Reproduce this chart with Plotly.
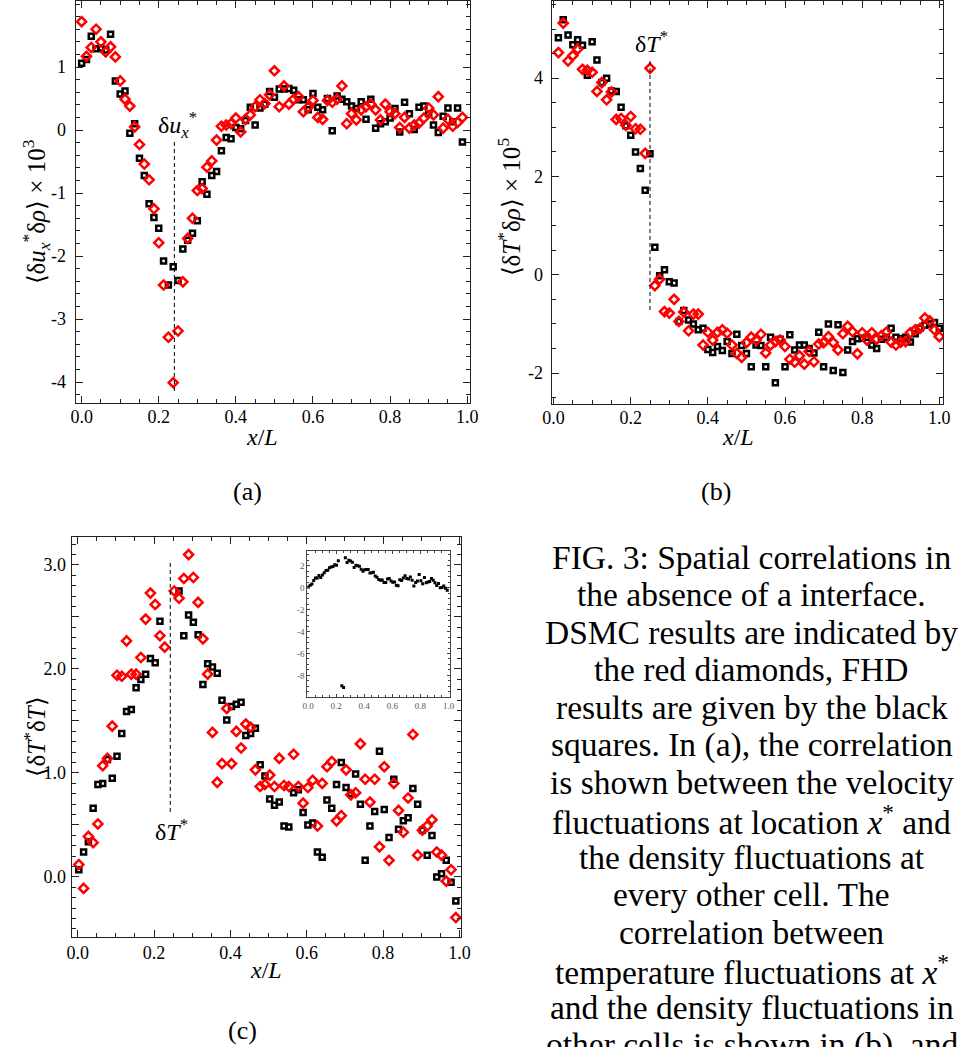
import plotly.graph_objects as go

W, H = 961, 1047
N_CELLS = 80
STAR = 19

# cell positions (x/L) for each panel
xa = [i / N_CELLS for i in range(N_CELLS)]
xb = [(i + 1) / N_CELLS for i in range(N_CELLS)]
xc = [i / N_CELLS + 0.003 for i in range(N_CELLS)]

# (a) <du_x* drho> x 1e3
a_fhd = [1.06, 1.12, 1.49, 1.29, 1.30, 1.27, 1.52, 0.78, 0.57, 0.62,
         -0.05, 0.10, -0.45, -0.72, -1.17, -1.39, -1.56, -2.08, -2.46, -2.17,
         -2.39, -1.89, -1.75, -1.64, -1.44, -0.82, -1.02, -0.72, -0.66, -0.33,
         -0.12, -0.14, 0.04, 0.02, 0.15, 0.36, 0.08, 0.35, 0.41, 0.61,
         0.52, 0.65, 0.65, 0.66, 0.63, 0.48, 0.48, 0.32, 0.58, 0.36,
         0.32, 0.50, -0.01, 0.54, 0.49, 0.45, 0.38, 0.34, 0.45, 0.17,
         0.49, 0.03, 0.10, 0.13, 0.19, 0.34, -0.03, 0.44, 0.26, 0.01,
         0.36, 0.38, 0.26, 0.08, -0.04, 0.22, 0.35, 0.13, 0.35, -0.19]
a_dsmc = [1.72, 1.17, 1.31, 1.60, 1.40, 1.24, 1.32, 1.16, 0.78, 0.49,
          0.38, 0.05, -0.23, -0.54, -0.79, -1.25, -1.79, -2.46, -3.29, -4.01,
          -3.19, -2.41, -1.72, -1.40, -0.96, -0.93, -0.59, -0.49, -0.16, 0.06,
          0.08, 0.10, 0.19, -0.03, 0.17, 0.24, 0.37, 0.48, 0.42, 0.56,
          0.94, 0.37, 0.70, 0.41, 0.49, 0.53, 0.29, 0.36, 0.47, 0.20,
          0.17, 0.47, 0.44, 0.49, 0.70, 0.10, 0.26, 0.16, 0.32, 0.37,
          0.41, 0.32, 0.16, 0.41, 0.29, 0.26, 0.04, 0.20, 0.03, 0.08,
          0.11, 0.19, 0.35, 0.24, 0.53, 0.03, 0.17, 0.06, 0.12, 0.20]

# (b) <dT* drho> x 1e5
b_fhd = [4.82, 5.19, 4.88, 4.68, 4.78, 4.67, 4.06, 4.74, 4.37, 3.91,
         4.00, 3.74, 3.73, 3.41, 3.03, 2.84, 2.50, 2.16, 1.72, 2.46,
         0.56, -0.02, 0.10, -0.14, -0.17, -0.95, -0.73, -0.92, -1.00, -1.12,
         -1.09, -1.52, -1.58, -1.46, -1.54, -1.36, -1.60, -1.21, -1.44, -1.60,
         -1.87, -1.43, -1.44, -1.87, -1.27, -2.20, -1.31, -1.87, -1.22, -1.53,
         -1.43, -1.43, -1.50, -1.59, -1.17, -1.87, -1.00, -1.95, -1.02, -1.99,
         -1.53, -1.36, -1.30, -1.29, -1.27, -1.43, -1.50, -1.31, -1.27, -1.09,
         -1.27, -1.30, -1.27, -1.37, -1.20, -1.09, -1.03, -1.00, -0.97, -1.09]
b_dsmc = [4.52, 5.12, 4.35, 4.46, 4.59, 4.18, 4.16, 4.12, 3.73, 3.91,
          3.56, 3.72, 3.16, 3.18, 3.04, 3.22, 2.97, 2.96, 2.47, 4.20,
          -0.22, -0.09, -0.75, -0.78, -0.50, -0.95, -0.76, -1.14, -0.80, -0.80,
          -1.43, -1.17, -1.33, -1.17, -1.12, -1.19, -1.43, -1.60, -1.68, -1.38,
          -1.27, -1.33, -1.21, -1.59, -1.43, -1.36, -1.33, -1.46, -1.72, -1.78,
          -1.65, -1.82, -1.56, -1.77, -1.41, -1.38, -1.26, -1.38, -1.53, -1.20,
          -1.05, -1.16, -1.61, -1.18, -1.33, -1.18, -1.31, -1.24, -1.17, -1.37,
          -1.43, -1.37, -1.36, -1.18, -1.12, -1.09, -0.88, -0.94, -1.12, -1.26]

# (c) <dT* dT>
c_fhd = [0.07, 0.24, 0.34, 0.66, 0.89, 0.90, 1.13, 0.95, 1.16, 1.38,
         1.59, 1.61, 1.82, 1.90, 1.95, 2.10, 2.06, 2.46, None, -8.95,
         -9.10, 2.75, 2.32, 2.52, 2.45, 2.33, 1.85, 2.05, 2.02, 1.96,
         1.70, 1.51, 1.64, 1.66, 1.68, 1.36, 1.38, 1.43, 1.08, 0.97,
         0.75, 0.69, 0.72, 0.49, 0.48, 0.81, 0.84, 0.62, 0.50, 0.52,
         0.24, 0.19, 0.74, 0.66, 0.89, 1.10, 0.86, 0.80, 0.99, 0.70,
         0.16, 0.49, 0.63, 1.21, 0.65, 0.38, 0.94, 0.46, 0.54, 0.57,
         0.85, 0.70, 0.45, 0.21, 0.40, 0.00, 0.03, 0.16, -0.05, -0.23]
c_dsmc = [0.12, -0.11, 0.39, 0.33, 0.51, 1.07, 1.14, 1.45, 1.94, 1.93,
          2.27, 1.95, 1.95, 2.11, 2.48, 2.73, 2.62, 2.32, 2.21, None,
          2.75, 2.68, 2.87, 3.10, 2.88, 2.64, 2.29, 1.95, 1.39, 0.91,
          1.09, 1.62, 1.09, 1.40, 1.24, 1.47, 1.44, 1.03, 0.87, 0.89,
          0.98, 0.87, 1.14, 0.88, 0.87, 1.18, 0.87, 0.71, 0.86, 0.93,
          0.49, 0.90, 1.06, 1.11, 0.54, 0.59, 1.03, 0.79, 0.81, 1.28,
          0.94, 0.72, 0.94, 0.29, 1.06, 0.16, 0.90, 0.64, 0.43, 0.76,
          1.37, 0.21, 0.45, 0.49, 0.55, 0.24, 0.21, -0.04, 0.07, -0.39]

# extents of the dashed marker lines (data units)
dash_a = [-0.19, -4.17]
dash_b = [4.35, -0.78]
dash_c = [3.02, 0.60]

x_ticks = [0.0, 0.2, 0.4, 0.6, 0.8, 1.0]
x_ticktext = ["0.0", "0.2", "0.4", "0.6", "0.8", "1.0"]
ya_ticks = [-4, -3, -2, -1, 0, 1]
ya_text = ["-4", "-3", "-2", "-1", "0", "1"]
yb_ticks = [-2, 0, 2, 4]
yb_text = ["-2", "0", "2", "4"]
yc_ticks = [0.0, 0.5, 1.0, 1.5, 2.0, 2.5, 3.0]
yc_text = ["0.0", "", "1.0", "", "2.0", "", "3.0"]
yi_ticks = [-8, -6, -4, -2, 0, 2]
yi_text = ["-8", "-6", "-4", "-2", "0", "2"]

caption = [
    "FIG. 3: Spatial correlations in",
    "the absence of a interface.",
    "DSMC results are indicated by",
    "the red diamonds, FHD",
    "results are given by the black",
    "squares. In (a), the correlation",
    "is shown between the velocity",
    "fluctuations at location <i>x</i><sup>*</sup> and",
    "the density fluctuations at",
    "every other cell. The",
    "correlation between",
    "temperature fluctuations at <i>x</i><sup>*</sup>",
    "and the density fluctuations in",
    "other cells is shown in (b), and",
]

SERIF = "Liberation Serif, Times New Roman, serif"


def px(x):
    return x / W


def py(y):
    return 1 - y / H


fig = go.Figure()

sq = dict(symbol="square-open", size=5, color="black", line=dict(width=2.5, color="black"))
dm = dict(symbol="diamond-open", size=7, color="red", line=dict(width=2.5, color="red"))

for xs, ys_f, ys_d, xr, yr in [(xa, a_fhd, a_dsmc, "x", "y"),
                              (xb, b_fhd, b_dsmc, "x2", "y2"),
                              (xc, c_fhd, c_dsmc, "x3", "y3")]:
    fig.add_trace(go.Scatter(x=xs, y=ys_f, mode="markers", marker=sq, xaxis=xr, yaxis=yr,
                             cliponaxis=True, name="FHD"))
    fig.add_trace(go.Scatter(x=xs, y=ys_d, mode="markers", marker=dm, xaxis=xr, yaxis=yr,
                             cliponaxis=True, name="DSMC"))

# inset: FHD full range
fig.add_trace(go.Scatter(x=xc, y=c_fhd, mode="markers",
                         marker=dict(symbol="square", size=3, color="black"),
                         xaxis="x4", yaxis="y4", name="FHD inset"))


def ax(domain, rng, tickvals, ticktext, minor_dt, anchor, size=18, standoff=0, ticklen=7, mticklen=4,
       lw=1.2, color="#222"):
    return dict(domain=domain, range=rng, anchor=anchor, tickmode="array", tickvals=tickvals,
                ticktext=ticktext, showline=True, linecolor=color, linewidth=lw, mirror="allticks",
                ticks="inside", ticklen=ticklen, tickwidth=1, tickcolor=color, showgrid=False,
                zeroline=False, ticklabelstandoff=standoff,
                tickfont=dict(family=SERIF, size=size, color="black"),
                minor=dict(ticks="inside", dtick=minor_dt, tick0=0, ticklen=mticklen, tickcolor=color,
                           showgrid=False))


fig.update_layout(
    width=W, height=H, margin=dict(l=0, r=0, t=0, b=0),
    paper_bgcolor="white", plot_bgcolor="white", showlegend=False,
    xaxis=ax([px(68), px(470)], [-0.0153, 1.0077], x_ticks, x_ticktext, 0.05, "y", standoff=-3),
    yaxis=ax([py(403), py(1)], [-4.333, 2.048], ya_ticks, ya_text, 0.2, "x", standoff=5),
    xaxis2=ax([px(553), px(952)], [-0.005, 1.010], x_ticks, x_ticktext, 0.05, "y2", standoff=-3),
    yaxis2=ax([py(404), py(1)], [-2.63, 5.57], yb_ticks, yb_text, 0.5, "x2", standoff=4),
    xaxis3=ax([px(64), px(461)], [-0.0154, 1.005], x_ticks, x_ticktext, 0.05, "y3", standoff=-1),
    yaxis3=ax([py(937), py(537)], [-0.577, 3.269], yc_ticks, yc_text, 0.1, "x3", standoff=1),
    xaxis4=ax([px(304), px(449)], [-0.005, 1.007], x_ticks, x_ticktext, 0.05, "y4", size=9,
              ticklen=3, mticklen=2, lw=1, color="#444"),
    yaxis4=ax([py(697), py(551)], [-9.97, 3.36], yi_ticks, yi_text, 0.5, "x4", size=9,
              ticklen=3, mticklen=2, lw=1, color="#444"),
)
fig.update_layout(xaxis4=dict(tickfont=dict(color="#555")), yaxis4=dict(tickfont=dict(color="#555")))

dash_style = dict(color="black", width=1, dash="4px,3px")
fig.add_shape(type="line", xref="x", yref="y", x0=xa[STAR] + 0.003, x1=xa[STAR] + 0.003,
              y0=dash_a[0], y1=dash_a[1], line=dash_style)
fig.add_shape(type="line", xref="x2", yref="y2", x0=xb[STAR], x1=xb[STAR],
              y0=dash_b[0], y1=dash_b[1], line=dash_style)
fig.add_shape(type="line", xref="x3", yref="y3", x0=xc[STAR] + 0.002, x1=xc[STAR] + 0.002,
              y0=dash_c[0], y1=dash_c[1], line=dash_style)

ann = []


def txt(x, y, s, size=24, angle=0, anchor="center"):
    ann.append(dict(x=px(x), y=py(y), xref="paper", yref="paper", text=s, showarrow=False,
                    textangle=angle, xanchor=anchor, yanchor="middle",
                    font=dict(family=SERIF, size=size, color="black")))


# axis titles
txt(28, 212, "⟨δ<i>u</i><sub><i>x</i></sub><sup>*</sup>δ<i>ρ</i>⟩ × 10<sup>3</sup>", 25, -90)
txt(258, 437, "<i>x</i>/<i>L</i>", 24)
txt(243, 492, "(a)", 26)
txt(510, 207, "⟨δ<i>T</i><sup>*</sup>δ<i>ρ</i>⟩ × 10<sup>5</sup>", 25, -90)
txt(743, 437, "<i>x</i>/<i>L</i>", 24)
txt(721, 492, "(b)", 26)
txt(26, 737, "⟨δ<i>T</i><sup>*</sup>δ<i>T</i>⟩", 25, -90)
txt(262, 970, "<i>x</i>/<i>L</i>", 24)
txt(238, 1030, "(c)", 26)
# in-plot labels
txt(172, 125, "δ<i>u</i><sub><i>x</i></sub><sup>*</sup>", 24)
txt(655, 42, "δ<i>T</i><sup>*</sup>", 24)
txt(166, 830, "δ<i>T</i><sup>*</sup>", 24)

# caption
for k, line in enumerate(caption):
    txt(757, 557 + 37.5 * k, line, 33.5)

fig.update_layout(annotations=ann)
fig.write_html("out.html")
